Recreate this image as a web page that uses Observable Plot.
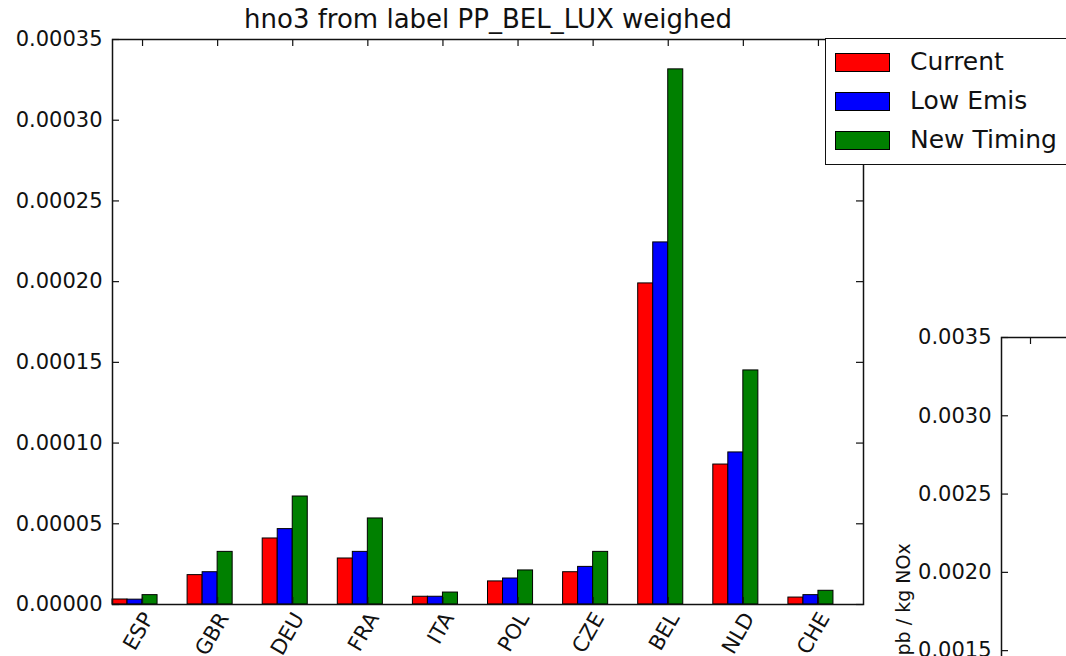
<!DOCTYPE html>
<html>
<head>
<meta charset="utf-8">
<script src="https://cdn.jsdelivr.net/npm/d3@7"></script>
<script src="https://cdn.jsdelivr.net/npm/@observablehq/plot@0.6"></script>
<style>
  html, body { margin: 0; padding: 0; background: #fff; overflow: hidden; width: 1066px; height: 656px; }
  #wrap { position: relative; width: 1066px; height: 656px; overflow: hidden; font-family: "DejaVu Sans", sans-serif; }
  #main, #side { position: absolute; top: 0; }
  #main { left: 0; width: 1066px; }
  #side { left: 880px; width: 866px; }
  #main svg, #side svg { max-width: none !important; }
  .legend { position: absolute; left: 825px; top: 38px; width: 320px; height: 127px; border: 1.5px solid #111; background: #fff; box-sizing: border-box; }
  .legend .row { position: absolute; left: 9px; display: flex; align-items: center; height: 20px; }
  .legend .swatch { width: 55px; height: 19px; border: 1.3px solid #000; box-sizing: border-box; }
  .legend .name { margin-left: 20px; font-size: 25px; color: #111; line-height: 20px; }
</style>
</head>
<body>
<div id="wrap">
  <div id="side"></div>
  <div id="main"></div>
</div>
<script>
// Countries receiving hno3 from the PP_BEL_LUX source label
const countries = ["ESP", "GBR", "DEU", "FRA", "ITA", "POL", "CZE", "BEL", "NLD", "CHE"];

// Weighed hno3 per scenario, one value per country
const current   = [0.0000031, 0.0000182, 0.0000409, 0.0000285, 0.0000048, 0.0000143, 0.0000200, 0.0001989, 0.0000867, 0.0000043];
const lowEmis   = [0.0000030, 0.0000200, 0.0000467, 0.0000326, 0.0000048, 0.0000161, 0.0000233, 0.0002243, 0.0000942, 0.0000058];
const newTiming = [0.0000058, 0.0000326, 0.0000669, 0.0000533, 0.0000074, 0.0000211, 0.0000326, 0.0003315, 0.0001450, 0.0000085];

const scenarios = ["Current", "Low Emis", "New Timing"];
const scenarioColors = ["#ff0000", "#0000ff", "#008000"];

const yTicks = [0, 0.00005, 0.00010, 0.00015, 0.00020, 0.00025, 0.00030, 0.00035];
const sideTicks = [0, 0.0005, 0.0010, 0.0015, 0.0020, 0.0025, 0.0030, 0.0035];

const title = "hno3 from label PP_BEL_LUX weighed";
const sideLabel = "ppb / kg NOx";

// Grouped bars: each country occupies one x unit, three bars of 0.2 side by side
const barWidth = 0.2;
const series = [current, lowEmis, newTiming];
const rows = countries.flatMap((country, i) =>
  series.map((values, k) => ({
    country,
    scenario: scenarios[k],
    x1: i + k * barWidth,
    x2: i + (k + 1) * barWidth,
    value: values[i]
  }))
);
const xTicks = countries.map((_, i) => i + 2 * barWidth);

const W = 1066, H = 656;
const mL = 112, mR = 203, mT = 39, mB = 52;
const plotW = W - mL - mR, plotH = H - mT - mB;
const tickLen = 7;
const ink = "#111";

const main = Plot.plot({
  width: W, height: H,
  marginLeft: mL, marginRight: mR, marginTop: mT, marginBottom: mB,
  x: { domain: [0, countries.length] },
  y: { domain: [0, 0.00035] },
  color: { domain: scenarios, range: scenarioColors },
  style: { fontFamily: "DejaVu Sans, sans-serif", background: "transparent", color: ink, overflow: "visible" },
  marks: [
    Plot.rect(rows, { x1: "x1", x2: "x2", y1: 0, y2: "value", fill: "scenario", stroke: "#000", strokeWidth: 1 }),
    // inward ticks on all four sides
    Plot.tickY(yTicks, { y: d => d, insetRight: plotW - tickLen, stroke: ink, strokeWidth: 1.2 }),
    Plot.tickY(yTicks, { y: d => d, insetLeft: plotW - tickLen, stroke: ink, strokeWidth: 1.2 }),
    Plot.tickX(xTicks, { x: d => d, insetBottom: plotH - tickLen, stroke: ink, strokeWidth: 1.2 }),
    Plot.tickX(xTicks, { x: d => d, insetTop: plotH - tickLen, stroke: ink, strokeWidth: 1.2 }),
    Plot.frame({ stroke: ink, strokeWidth: 1.5 }),
    Plot.axisY({ ticks: yTicks, tickFormat: d => d.toFixed(5), tickSize: 0, tickPadding: 10, fontSize: 21, label: null }),
    Plot.axisX({ ticks: xTicks, tickFormat: d => countries[Math.round(d - 2 * barWidth)], tickSize: 0, tickPadding: 10, tickRotate: -60, dx: 6, fontSize: 21, label: null }),
    Plot.text([title], { frameAnchor: "top", lineAnchor: "bottom", dy: -12, fontSize: 26, fill: ink })
  ]
});
document.getElementById("main").append(main);

// Neighbouring panel, of which only the top-left corner is in view
const sW = 866, sH = 905, sL = 121, sT = 337, sR = 20, sB = 20;
const sPlotW = sW - sL - sR, sPlotH = sH - sT - sB;
const side = Plot.plot({
  width: sW, height: sH,
  marginLeft: sL, marginRight: sR, marginTop: sT, marginBottom: sB,
  x: { domain: [0, 10] },
  y: { domain: [0, 0.0035] },
  style: { fontFamily: "DejaVu Sans, sans-serif", background: "transparent", color: ink, overflow: "visible" },
  marks: [
    Plot.tickY(sideTicks, { y: d => d, insetRight: sPlotW - tickLen, stroke: ink, strokeWidth: 1.2 }),
    Plot.tickX([0.4], { x: d => d, insetBottom: sPlotH - tickLen, stroke: ink, strokeWidth: 1.2 }),
    Plot.frame({ stroke: ink, strokeWidth: 1.5 }),
    Plot.axisY({ ticks: sideTicks, tickFormat: d => d.toFixed(4), tickSize: 0, tickPadding: 10, fontSize: 21, label: null }),
    Plot.text([sideLabel], { frameAnchor: "left", dx: -98, dy: 56, rotate: -90, fontSize: 19, fill: ink })
  ]
});
document.getElementById("side").append(side);

// Legend box in the upper right corner
const legend = document.createElement("div");
legend.className = "legend";
const rowTops = [13, 52, 91];
scenarios.forEach((name, k) => {
  const row = document.createElement("div");
  row.className = "row";
  row.style.top = rowTops[k] + "px";
  const sw = document.createElement("div");
  sw.className = "swatch";
  sw.style.background = scenarioColors[k];
  const label = document.createElement("span");
  label.className = "name";
  label.textContent = name;
  row.append(sw, label);
  legend.append(row);
});
document.getElementById("wrap").append(legend);
</script>
</body>
</html>
